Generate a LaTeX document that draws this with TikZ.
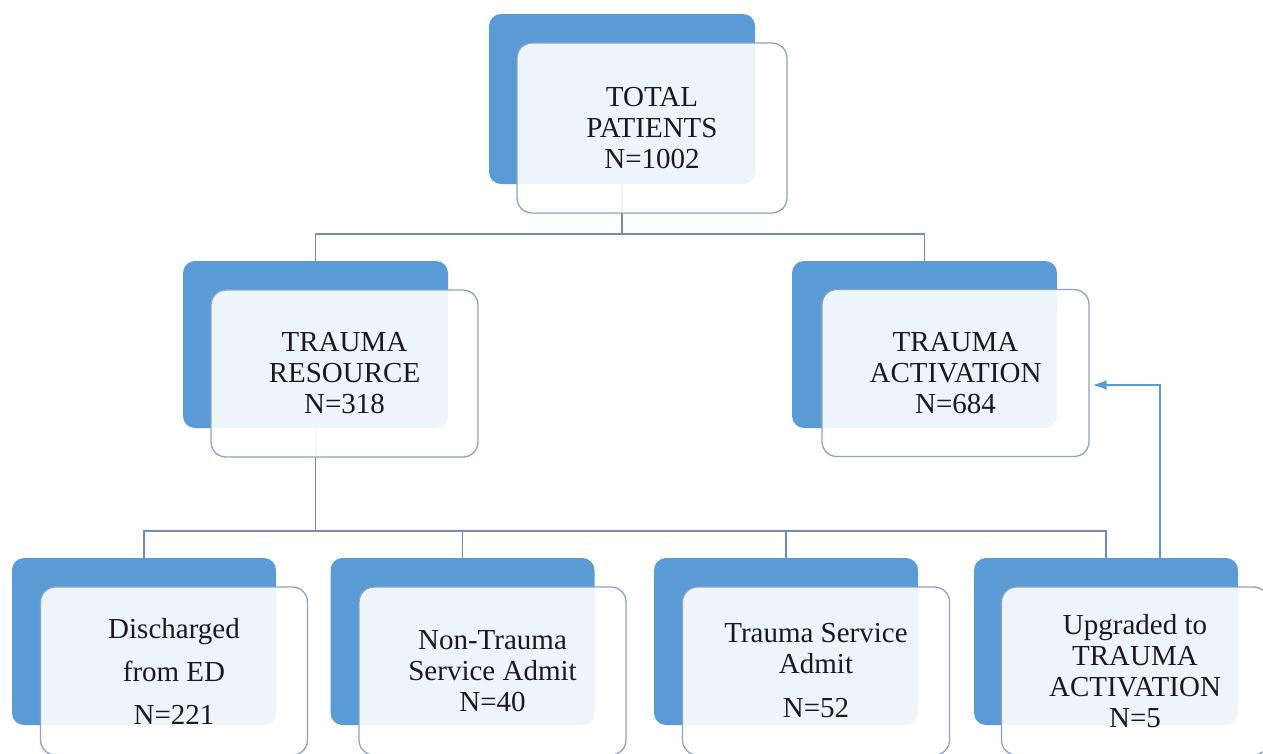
\documentclass[tikz,border=0pt]{standalone}
\usepackage{fontspec}
\setmainfont{Liberation Serif}
\usetikzlibrary{arrows.meta,calc}
\definecolor{backblue}{RGB}{91,155,213}
\definecolor{frontedge}{RGB}{140,163,190}
\definecolor{conn}{RGB}{112,140,176}
\definecolor{txt}{RGB}{25,25,30}
\tikzset{
  backbox/.style={draw=none,fill=backblue,rounded corners=12pt,minimum width=265pt,minimum height=167pt,inner sep=0pt},
  frontbox/.style={draw=frontedge,line width=1.3pt,fill=white,fill opacity=0.9,text opacity=1,rounded corners=15pt,minimum width=267pt,minimum height=167pt,inner sep=0pt,align=center,text=txt,font=\fontsize{29}{31}\selectfont},
  connector/.style={draw=conn,line width=1.8pt},
  upgrade/.style={draw=backblue,line width=1.8pt,-{Latex[length=14pt,width=10pt]}}
}
\begin{document}
\begin{tikzpicture}[x=1pt,y=-1pt]
\useasboundingbox (0,0) rectangle (1263,753);
% back boxes
\node[backbox,minimum width=266pt,minimum height=170pt] (tb) at (622,99) {};
\node[backbox] (lb) at (315.5,344.5) {};
\node[backbox] (rb) at (924.5,344.5) {};
\node[backbox,minimum width=264pt] (b1b) at (144,641.5) {};
\node[backbox,minimum width=264pt] (b2b) at (462.5,641.5) {};
\node[backbox,minimum width=264pt] (b3b) at (786,641.5) {};
\node[backbox,minimum width=264pt] (b4b) at (1106,641.5) {};
% connectors (under front boxes)
\draw[connector] (tb.south) -- ++(0,50) coordinate (tj);
\draw[connector] (lb.north) |- (tj) -| (rb.north);
\draw[connector] (lb.south) -- ++(0,103) coordinate (lj);
\draw[connector] (b1b.north) |- (lj);
\draw[connector] (b4b.north) |- (lj);
\draw[connector] (b2b.north) -- (b2b.north |- lj);
\draw[connector] (b3b.north) -- (b3b.north |- lj);
% front boxes
\node[frontbox,minimum width=270pt,minimum height=170pt] (t) at (652,128) {TOTAL\\PATIENTS\\N=1002};
\node[frontbox] (l) at (344.5,373.5) {TRAUMA\\RESOURCE\\N=318};
\node[frontbox] (r) at (955.5,373) {TRAUMA\\ACTIVATION\\N=684};
\node[frontbox,minimum height=168pt] (b1) at (174,671) {Discharged\\[12pt]from ED\\[12pt]N=221};
\node[frontbox,minimum height=168pt] (b2) at (492.5,671) {Non-Trauma\\Service Admit\\N=40};
\node[frontbox,minimum height=168pt] (b3) at (816,671) {Trauma Service\\Admit\\[13pt]N=52};
\node[frontbox,minimum height=168pt] (b4) at (1135,671) {Upgraded to\\TRAUMA\\ACTIVATION\\N=5};
% upgrade arrow
\draw[upgrade] ($(b4b.north)+(54,0)$) |- ($(r.east)+(3,12)$);
\end{tikzpicture}
\end{document}
